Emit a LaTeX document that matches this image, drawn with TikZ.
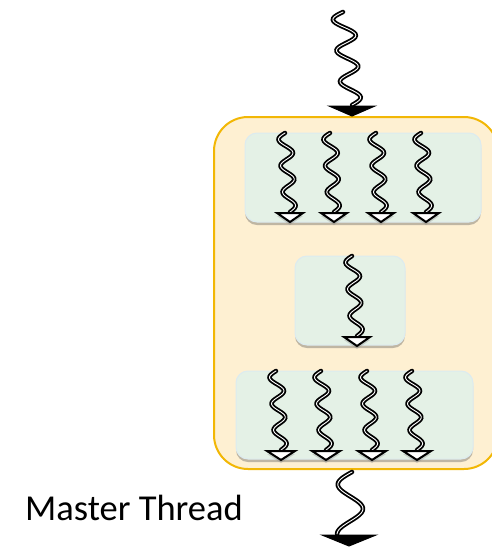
\documentclass[tikz,border=0pt]{standalone}
\usepackage{fontspec}
\setmainfont{Carlito}
\usetikzlibrary{shadows}

\definecolor{regionfill}{HTML}{FEF0D2}
\definecolor{regionline}{HTML}{F2B705}
\definecolor{teamfill}{HTML}{E4F1E6}
\definecolor{teamline}{HTML}{DCEBF0}

\tikzset{
  region/.style={draw=regionline, line width=2pt, fill=regionfill, rounded corners=34pt},
  team/.style={draw=teamline, line width=1pt, fill=teamfill, rounded corners=12pt,
    drop shadow={shadow xshift=0pt, shadow yshift=-3pt, opacity=0.35, fill=black!70}},
  thread/.style={line width=1.8pt, draw=black, double=white, double distance=0.9pt, line cap=round},
  smallhead/.style={draw=black, line width=2pt, fill=white, line join=miter,
    drop shadow={shadow xshift=0pt, shadow yshift=-3pt, opacity=0.3}},
  bighead/.style={draw=black, line width=1pt, fill=black, line join=miter},
  label/.style={font=\fontsize{36.5}{42}\selectfont, anchor=base west, inner sep=0pt}
}

% wavy thread: \threadline{x0}{y0}{x1}{y1}{amplitude}{periods}
\newcommand\threadline[6]{%
  \draw[thread] plot[smooth, domain=0:1, samples=60, variable=\t]
    ({#1+(#3-#1)*\t + #5*sin(#6*360*\t)*(1-0.15*\t)}, {#2+(#4-#2)*\t});
}
% triangular arrow head pointing down: \threadhead{style}{cx}{ytop}{halfwidth}{height}
\newcommand\threadhead[5]{%
  \path[#1] (#2-#4,#3) -- (#2+#4,#3) -- (#2,#3+#5) -- cycle;
}

\begin{document}
\begin{tikzpicture}[x=1pt,y=-1pt]
\useasboundingbox (0,0) rectangle (491,547);

% parallel region
\path[region] (214,117) rectangle (498,469);

% teams of threads
\path[team] (245,133) rectangle (481,222);
\path[team] (295,256) rectangle (405,345);
\path[team] (236,371) rectangle (473,459);

% master thread entering
\threadline{343}{12}{352}{105}{-11}{3}
\threadhead{bighead}{352}{106}{23}{10}

% forked threads, first team
\foreach \xs/\xe in {285/290, 330/334, 376/381, 421/426}{
  \threadline{\xs}{133}{\xe}{212}{-7}{3}
  \threadhead{smallhead}{\xe}{213}{13}{9}
}

% single thread in between
\threadline{352}{256}{357}{336}{-7}{3}
\threadhead{smallhead}{357}{337}{13}{9}

% forked threads, second team
\foreach \xs/\xe in {276/281, 321/326, 367/372, 412/417}{
  \threadline{\xs}{371}{\xe}{450}{-7}{3}
  \threadhead{smallhead}{\xe}{451}{14}{9}
}

% master thread leaving
\threadline{352}{472}{349}{534}{-14}{1.25}
\threadhead{bighead}{349}{535}{27}{11}

\node[label] (master) at (25,520) {Master Thread};
\end{tikzpicture}
\end{document}
